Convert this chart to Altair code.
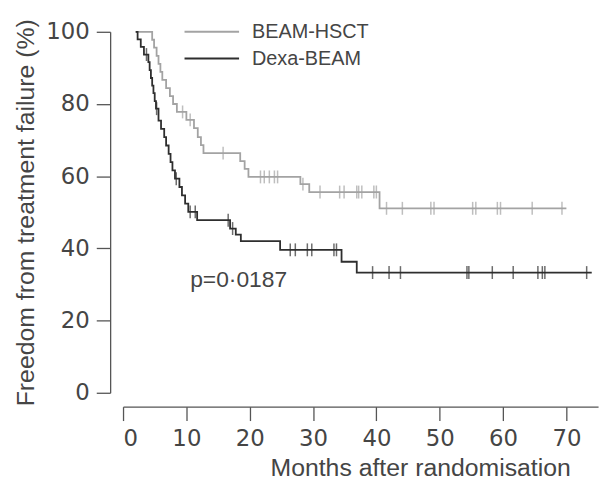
import altair as alt
import pandas as pd

arms = ["BEAM-HSCT", "Dexa-BEAM"]
arm_colors = ["#a3a3a3", "#2e2e2e"]

# BEAM-HSCT: step times (months) and survival (%) after each step
hsct_times = [2.0, 4.6, 4.9, 5.3, 5.6, 5.9, 6.2, 6.8, 7.4, 7.9, 8.5, 10.0, 11.2, 11.8, 12.3, 12.7,
              18.5, 19.2, 19.8, 28.0, 29.4, 40.5]
hsct_surv = [100, 97.8, 95.6, 93.3, 91.1, 88.9, 86.7, 84.4, 82.2, 80.0, 77.8, 75.6, 73.3, 70.8, 68.6, 66.4,
             64.2, 62.0, 59.8, 57.8, 55.6, 51.1]
hsct_censor = [9.4, 10.6, 15.8, 21.7, 22.3, 23.1, 23.9, 24.4, 28.4, 31.1, 34.2, 34.9, 36.9, 37.2, 37.7,
               39.6, 40.0, 41.6, 44.1, 48.6, 49.1, 55.2, 55.7, 59.1, 59.6, 64.6, 69.3]
hsct_end = 70.0

# Dexa-BEAM
dexa_times = [2.0, 2.3, 2.8, 3.3, 4.0, 4.2, 4.4, 4.6, 4.8, 5.0, 5.2, 5.6, 6.0, 6.5, 6.8, 7.2, 7.5, 7.8,
              8.2, 8.9, 9.3, 9.8, 10.3, 11.7, 16.9, 17.8, 18.6, 24.8, 34.5, 36.9]
dexa_surv = [100, 97.9, 95.8, 93.7, 91.6, 89.4, 87.2, 85.1, 83.0, 80.8, 78.7, 75.4, 73.1, 70.8, 68.5, 66.2,
             63.9, 61.6, 59.3, 57.0, 54.7, 52.4, 50.1, 47.8, 45.5, 43.8, 42.0, 39.6, 36.3, 33.3]
dexa_censor = [3.7, 5.3, 8.4, 10.6, 11.4, 16.6, 17.3, 26.4, 27.2, 29.1, 29.8, 33.3, 33.7, 39.4, 42.0, 43.8,
               54.3, 54.6, 58.3, 61.6, 65.5, 66.2, 66.6, 73.2]
dexa_end = 74.0

p_label = "p=0·0187"
p_month = 10.6
p_pct = 29.4

x_ticks = [0, 10, 20, 30, 40, 50, 60, 70]
y_ticks = [0, 20, 40, 60, 80, 100]


def step_rows(times, surv, end, arm):
    rows = [{"month": t, "pct": s, "arm": arm} for t, s in zip(times, surv)]
    rows.append({"month": end, "pct": surv[-1], "arm": arm})
    return rows


def censor_rows(censors, times, surv, arm):
    rows = []
    for c in censors:
        val = surv[0]
        for t, s in zip(times, surv):
            if t <= c:
                val = s
        rows.append({"month": c, "pct": val, "arm": arm})
    return rows


lines_df = pd.DataFrame(step_rows(hsct_times, hsct_surv, hsct_end, arms[0]) +
                        step_rows(dexa_times, dexa_surv, dexa_end, arms[1]))
cens_df = pd.DataFrame(censor_rows(hsct_censor, hsct_times, hsct_surv, arms[0]) +
                       censor_rows(dexa_censor, dexa_times, dexa_surv, arms[1]))
p_df = pd.DataFrame({"month": [p_month], "pct": [p_pct], "label": [p_label]})

TXT = "#454545"
AX = "#555555"

x_enc = alt.X(
    "month:Q",
    scale=alt.Scale(domain=[0, 75], nice=False),
    axis=alt.Axis(values=x_ticks, title="Months after randomisation", grid=False, offset=14,
                  tickSize=14, labelPadding=7, domainColor=AX, tickColor=AX,
                  domainWidth=1.3, tickWidth=1.3,
                  labelFont="DejaVu Sans", labelFontSize=23, labelColor=TXT,
                  titleFont="Liberation Sans", titleFontSize=25, titleFontWeight="normal",
                  titleColor=TXT, titleX=451, titleY=69, titleAlign="right",
                  titleBaseline="alphabetic"),
)
y_enc = alt.Y(
    "pct:Q",
    scale=alt.Scale(domain=[0, 100], nice=False),
    axis=alt.Axis(values=y_ticks, title="Freedom from treatment failure (%)", grid=False, offset=13,
                  tickSize=14, labelPadding=7, domainColor=AX, tickColor=AX,
                  domainWidth=1.3, tickWidth=1.3,
                  labelFont="DejaVu Sans", labelFontSize=23, labelColor=TXT,
                  titleFont="Liberation Sans", titleFontSize=25, titleFontWeight="normal",
                  titleColor=TXT, titlePadding=7),
)
color_scale = alt.Scale(domain=arms, range=arm_colors)

lines = alt.Chart(lines_df).mark_line(interpolate="step-after", strokeWidth=1.8).encode(
    x=x_enc, y=y_enc,
    color=alt.Color("arm:N", scale=color_scale, sort=arms,
                    legend=alt.Legend(title=None, orient="none", legendX=61, legendY=-10,
                                      symbolType="stroke", symbolSize=3025, symbolStrokeWidth=2,
                                      clipHeight=20, rowPadding=7, labelOffset=12, padding=0,
                                      labelFont="Liberation Sans", labelFontSize=20,
                                      labelColor=TXT)),
)
ticks = alt.Chart(cens_df).mark_tick(orient="vertical", size=13, thickness=1.5).encode(
    x="month:Q", y="pct:Q",
    color=alt.Color("arm:N", scale=color_scale, legend=None),
)
ptext = alt.Chart(p_df).mark_text(align="left", baseline="alphabetic", font="Liberation Sans",
                                  fontSize=23, color=TXT).encode(
    x="month:Q", y="pct:Q", text="label:N")

chart = alt.layer(lines, ticks, ptext).properties(
    width=479, height=364,
    autosize=alt.AutoSizeParams(type="none"),
    padding={"left": 116, "top": 22, "right": 8, "bottom": 91},
).configure_view(stroke=None, strokeWidth=0)

chart.save("out.html", embed_options={"renderer": "svg", "actions": False})
